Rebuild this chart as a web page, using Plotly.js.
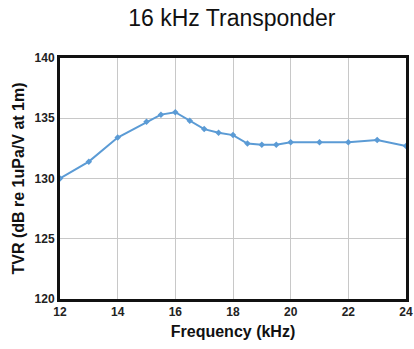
<!DOCTYPE html>
<html>
<head>
<meta charset="utf-8">
<script src="https://cdn.plot.ly/plotly-3.0.1.min.js"></script>
<style>html,body{margin:0;padding:0;background:#fff;}#chart{width:414px;height:349px;}</style>
</head>
<body>
<div id="chart"></div>
<script>
// Transmitting voltage response of the 16 kHz transponder
const freqKHz = [12, 13, 14, 15, 15.5, 16, 16.5, 17, 17.5, 18, 18.5, 19, 19.5, 20, 21, 22, 23, 24];
const tvrDb   = [130.0, 131.4, 133.4, 134.7, 135.3, 135.5, 134.8, 134.1, 133.8, 133.6, 132.9, 132.8, 132.8, 133.0, 133.0, 133.0, 133.2, 132.7];
const xTicks = [12, 14, 16, 18, 20, 22, 24];
const yTicks = [120, 125, 130, 135, 140];

const trace = {
  x: freqKHz,
  y: tvrDb,
  type: 'scatter',
  mode: 'lines+markers',
  line: {color: '#5b9bd5', width: 2},
  marker: {symbol: 'diamond', size: 5, color: '#5b9bd5'},
  hoverinfo: 'x+y'
};

const tickFont = {family: 'Liberation Sans, Arial, sans-serif', size: 12, color: '#222', weight: 'bold'};
const titleFont = {family: 'Liberation Sans, Arial, sans-serif', size: 16, color: '#111', weight: 'bold'};

const layout = {
  width: 414, height: 349,
  margin: {l: 60, r: 8, t: 58, b: 50},
  paper_bgcolor: '#fff', plot_bgcolor: '#fff',
  showlegend: false,
  title: {text: '16 kHz Transponder', x: 0.56, xanchor: 'center', y: 0.95, yanchor: 'middle',
          font: {family: 'Liberation Sans, Arial, sans-serif', size: 23, color: '#111'}},
  xaxis: {
    range: [12, 24], tickvals: xTicks, ticktext: xTicks.map(String),
    showgrid: true, gridcolor: '#c8c8c8', gridwidth: 1,
    showline: true, linecolor: '#111', linewidth: 3, mirror: true,
    zeroline: false, ticks: '', tickfont: tickFont,
    title: {text: 'Frequency (kHz)', font: titleFont, standoff: 8}
  },
  yaxis: {
    range: [120, 140], tickvals: yTicks, ticktext: yTicks.map(String),
    showgrid: true, gridcolor: '#c8c8c8', gridwidth: 1,
    showline: true, linecolor: '#111', linewidth: 3, mirror: true,
    zeroline: false, ticks: '', tickfont: tickFont,
    title: {text: 'TVR (dB re 1uPa/V at 1m)', font: titleFont, standoff: 6}
  }
};

Plotly.newPlot('chart', [trace], layout, {displayModeBar: false, staticPlot: true});
</script>
</body>
</html>
